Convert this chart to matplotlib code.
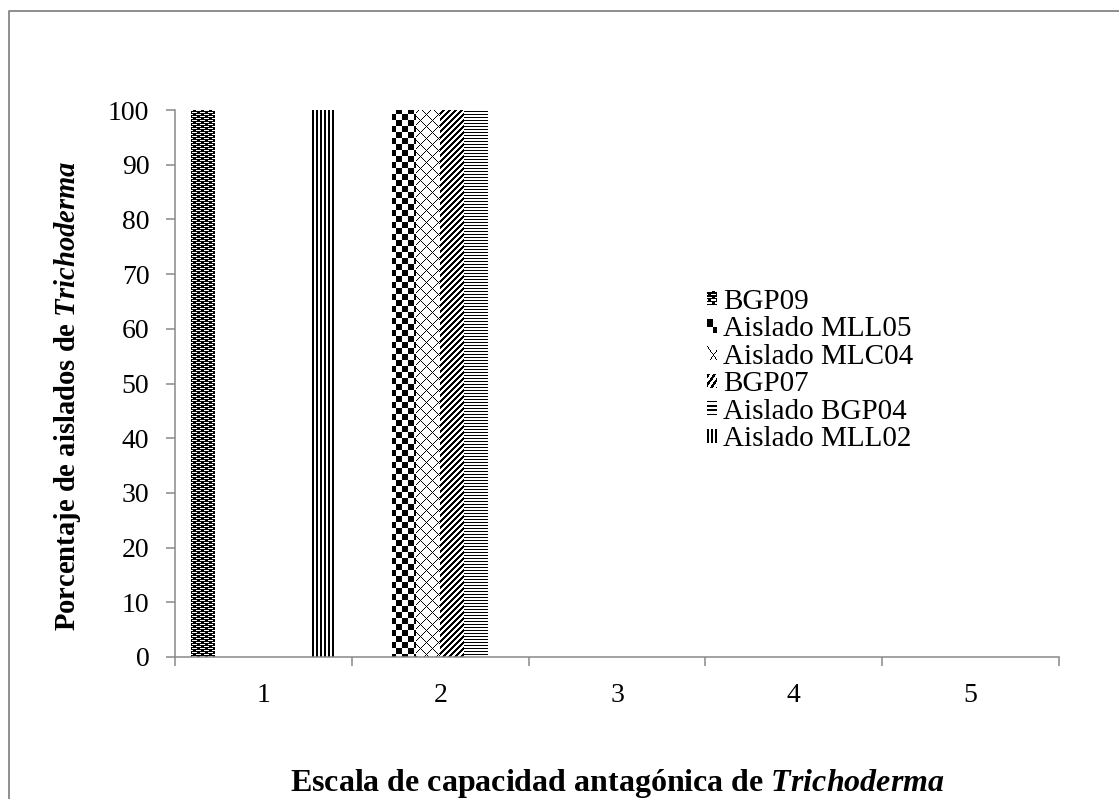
import numpy as np
import matplotlib
matplotlib.use("Agg")
import matplotlib.pyplot as plt
from matplotlib.legend_handler import HandlerBase
from matplotlib.image import BboxImage
from matplotlib.transforms import Bbox, TransformedBbox
from matplotlib.lines import Line2D

plt.rcParams['font.family'] = ['Liberation Serif', 'DejaVu Serif']
plt.rcParams['mathtext.fontset'] = 'custom'
plt.rcParams['mathtext.rm'] = 'Liberation Serif:bold'
plt.rcParams['mathtext.bf'] = 'Liberation Serif:bold'
plt.rcParams['mathtext.it'] = 'Liberation Serif:bold:italic'
plt.rcParams['mathtext.bfit'] = 'Liberation Serif:bold:italic'

# ---------------- data ----------------
categories = [1, 2, 3, 4, 5]
series_names = ["BGP09", "Aislado MLL05", "Aislado MLC04", "BGP07",
                "Aislado BGP04", "Aislado MLL02"]
bgp09 = [100, 0, 0, 0, 0]
mll05 = [0, 100, 0, 0, 0]
mlc04 = [0, 100, 0, 0, 0]
bgp07 = [0, 100, 0, 0, 0]
bgp04 = [0, 100, 0, 0, 0]
mll02 = [100, 0, 0, 0, 0]
series_values = [bgp09, mll05, mlc04, bgp07, bgp04, mll02]
y_ticks = list(range(0, 101, 10))
x_label = r"Escala de capacidad antagónica de $\mathit{Trichoderma}$"
y_label = r"Porcentaje de aislados de $\mathit{Trichoderma}$"

# ---------------- pattern textures (pixel level) ----------------
def pat_smallbrick(X, Y):
    r = Y % 4
    white = ((r == 0) & ((X % 8) < 5)) | ((r == 2) & (((X + 4) % 8) < 5))
    return ~white

def pat_checker(X, Y):
    return ((X // 6 + Y // 6) % 2) == 0

def pat_diamond(X, Y):
    return ((X - Y) % 12 == 0) | ((X + Y) % 12 == 0)

def pat_wdiag(X, Y):
    return ((X + Y) % 6) < 3

def pat_horiz(X, Y):
    return (Y % 3) == 0

def pat_vert(X, Y):
    return (X % 4) < 2

patterns = [pat_smallbrick, pat_checker, pat_diamond, pat_wdiag, pat_horiz, pat_vert]

def texture(func, x0, ytop, w, h):
    X, Y = np.meshgrid(np.arange(x0, x0 + w), np.arange(ytop, ytop + h))
    black = func(X, Y)
    img = np.ones((h, w, 3))
    img[black] = 0.0
    return img

W, H, DPI = 1119, 799, 100
fig = plt.figure(figsize=(W / DPI, H / DPI), dpi=DPI)
ax = fig.add_axes([175 / W, 1 - 657 / H, 884 / W, 547 / H])

n = len(series_names)
bw = 0.136
x = np.array(categories, dtype=float)
bar_groups = []
for i, (name, vals) in enumerate(zip(series_names, series_values)):
    offs = (i - (n - 1) / 2) * bw
    bars = ax.bar(x + offs, vals, width=bw, color='white', edgecolor='none',
                  label=name, zorder=2)
    bar_groups.append(bars)

ax.set_xlim(0.5, 5.5)
ax.set_ylim(0, 100)

# textures clipped to bars
for func, bars in zip(patterns, bar_groups):
    for p in bars.patches:
        if p.get_height() <= 0:
            continue
        bb = p.get_window_extent()
        px0 = int(round(bb.x0)); px1 = int(round(bb.x1))
        py0 = int(round(bb.y0)); py1 = int(round(bb.y1))
        w = max(px1 - px0, 1); h = max(py1 - py0, 1)
        img = texture(func, px0, H - py1, w, h)
        (dx0, dy0) = ax.transData.inverted().transform((px0, py0))
        (dx1, dy1) = ax.transData.inverted().transform((px1, py1))
        im = ax.imshow(img, extent=(dx0, dx1, dy0, dy1), origin='upper',
                       interpolation='nearest', aspect='auto', zorder=3)
        im.set_clip_path(p)
ax.set_xlim(0.5, 5.5)
ax.set_ylim(0, 100)

# axes styling
gray = '#898989'
for s in ['top', 'right']:
    ax.spines[s].set_visible(False)
for s in ['left', 'bottom']:
    ax.spines[s].set_color(gray)
    ax.spines[s].set_linewidth(1.1)
    ax.spines[s].set_zorder(4)

ax.set_yticks(y_ticks)
ax.tick_params(axis='y', direction='out', length=6.5, width=1.1, color=gray,
               labelsize=20, pad=12)
ax.set_xticks(categories)
ax.set_xticklabels([str(c) for c in categories])
ax.set_xticks(np.arange(0.5, 5.6, 1.0), minor=True)
ax.tick_params(axis='x', which='major', length=0, labelsize=20, pad=19)
ax.tick_params(axis='x', which='minor', direction='out', length=6.5,
               width=1.1, color=gray)

fig.text(617 / W, 1 - 783 / H, x_label, ha='center', va='center',
         fontsize=23, fontweight='bold')
fig.text(68 / W, 1 - 396 / H, y_label, ha='center', va='center',
         fontsize=20.6, fontweight='bold', rotation=90)

# legend with texture handles
class TexHandler(HandlerBase):
    def __init__(self, func):
        super().__init__()
        self.func = func

    def create_artists(self, legend, orig_handle, xdescent, ydescent,
                       width, height, fontsize, trans):
        bbox = TransformedBbox(Bbox.from_bounds(-xdescent, -ydescent,
                                                width, height), trans)
        img = BboxImage(bbox, interpolation='nearest')
        img.set_data(texture(self.func, 0, 0, 10, 10))
        return [img]

handles = [bg.patches[0] for bg in bar_groups]
handler_map = {h: TexHandler(f) for h, f in zip(handles, patterns)}
ax.legend(handles, series_names, handler_map=handler_map,
          loc='upper left', bbox_to_anchor=(707 / W, 1 - 289 / H),
          bbox_transform=fig.transFigure, frameon=False, fontsize=21,
          handlelength=0.34, handleheight=0.34, handletextpad=0.22,
          labelspacing=0.05, borderpad=0, borderaxespad=0)

# outer chart frame
fig.add_artist(Line2D([8.5 / W, 8.5 / W, 1.0], [0.0, 1 - 10.5 / H, 1 - 10.5 / H],
                      transform=fig.transFigure, color='#868686', lw=1.3))

fig.savefig('out.png', dpi=DPI)
